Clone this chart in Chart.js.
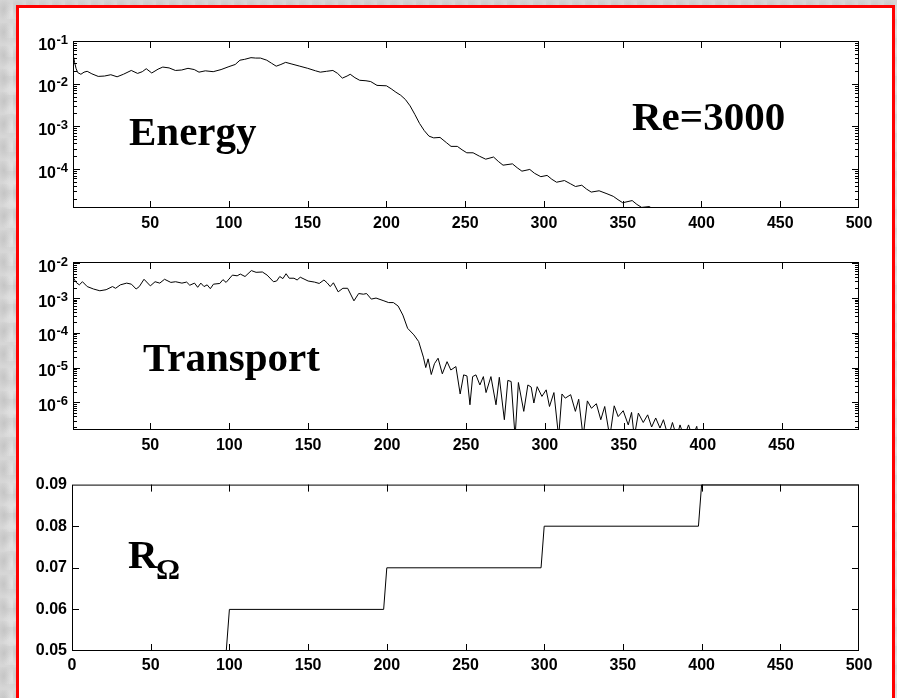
<!DOCTYPE html>
<html><head><meta charset="utf-8">
<script src="https://cdn.jsdelivr.net/npm/chart.js@4.4.0/dist/chart.umd.min.js"></script>
<style>
html,body{margin:0;padding:0;width:897px;height:698px;overflow:hidden;}
body{position:relative;background-color:#d6d6d6;
 background-image:radial-gradient(ellipse at 30% 40%, rgba(175,175,175,0.45) 0, transparent 60%),
 radial-gradient(ellipse at 70% 70%, rgba(235,235,235,0.6) 0, transparent 55%);
 background-size:13px 23px, 17px 19px;}
#frame{position:absolute;left:16px;top:5px;width:879px;height:720px;box-sizing:border-box;border:3px solid #ff0000;background:#ffffff;}
canvas{position:absolute;}
</style></head><body>
<div id="frame"></div>
<canvas id="c1" width="870" height="215" style="left:20px;top:25px"></canvas>
<canvas id="c2" width="870" height="215" style="left:20px;top:250px"></canvas>
<canvas id="c3" width="870" height="215" style="left:20px;top:470px"></canvas>
<script>
// ---------- data ----------
const energyX = [1,2,3,4,6,8,10,13,17,21,25,29,33,38,42,45,47.5,51,55,58,62,66,70,74,78,81,85,90,95,100,104,107,110,114,117,120,124,127,130,133,136,140,145,150,155,158,162,166,169,172,175,177,180,183,187,190,194,200,203,206,209,212,215,218,221,224,227,230,234,238,241,245,248,251,255,259,263,268,271,274,280,283,286,291,294,298,302,305,308,313,317,320,324,327,330,335,340,344,347,350,356,359,362,367,370,373];
const energyY = [0.0501,0.0316,0.0224,0.0182,0.0166,0.0186,0.0195,0.0170,0.0148,0.0151,0.0162,0.0145,0.0166,0.0204,0.0174,0.0191,0.0224,0.0178,0.0219,0.0245,0.0234,0.0204,0.0209,0.0229,0.0214,0.0186,0.0200,0.0191,0.0214,0.0251,0.0282,0.0355,0.0372,0.0407,0.0398,0.0398,0.0355,0.0302,0.0257,0.0282,0.0316,0.0288,0.0257,0.0229,0.0200,0.0186,0.0195,0.0204,0.0174,0.0135,0.0151,0.0166,0.0138,0.0120,0.0117,0.0112,0.00912,0.00891,0.00759,0.00631,0.00537,0.00427,0.00302,0.00191,0.00117,7.94e-4,5.89e-4,5.37e-4,5.50e-4,4.17e-4,3.39e-4,3.39e-4,2.82e-4,2.40e-4,2.40e-4,2.00e-4,1.70e-4,1.91e-4,1.51e-4,1.23e-4,1.32e-4,1.07e-4,8.91e-5,9.77e-5,7.94e-5,6.61e-5,7.08e-5,5.75e-5,4.90e-5,5.37e-5,4.47e-5,3.89e-5,4.17e-5,3.39e-5,2.88e-5,3.09e-5,2.63e-5,2.29e-5,1.91e-5,1.62e-5,1.82e-5,1.48e-5,1.26e-5,1.32e-5,1.07e-5,8.9e-6];

const transportX = [1,3,5,7,10,14,18,22,26,28,31,35,38,41,43,46,50,53,56,59,63,66,70,73,75,78,80,82,84,86,88,90,94,96,98,102,105,107,110,114,117,121,124,128,130,132,134,136,138,141,143,145,150,154,157,160,162,164,166,169,172,175,179,182,185,187,190,193,198,201,204,207,210,213,217,220,223,224.5,226,228,230,232.3,235,238,240.4,243.6,246.3,248.5,250.6,252.5,254.2,256.3,258.8,261,262.7,265.8,269,271.1,274.3,276.5,278.6,281.1,283.2,286.6,289.2,291.3,293,295.1,298.1,300.8,302.9,305.7,308.7,310.8,312.9,316.3,319.3,321.4,324.2,326.9,329.5,332.6,335.4,337.9,341.1,343.9,346.4,349.6,352.8,354.9,356.6,359.2,362.3,365.1,367.6,370.2,372.9,375.1,378.2,380.8,383.5,385.6,388.2,391,393.5,396.2,397.3];
const transportY = [3.98e-3,2.82e-3,2.40e-3,2.95e-3,2.14e-3,1.82e-3,1.62e-3,1.74e-3,2.14e-3,1.91e-3,2.40e-3,2.69e-3,2.51e-3,1.82e-3,2.14e-3,3.47e-3,2.24e-3,2.95e-3,2.69e-3,3.47e-3,2.82e-3,2.95e-3,2.69e-3,2.88e-3,2.34e-3,2.69e-3,2.04e-3,2.69e-3,2.14e-3,2.40e-3,1.86e-3,2.51e-3,2.63e-3,3.39e-3,2.82e-3,4.57e-3,4.37e-3,4.90e-3,4.17e-3,6.17e-3,5.50e-3,5.62e-3,4.57e-3,2.95e-3,3.09e-3,4.17e-3,3.63e-3,5.01e-3,3.72e-3,3.72e-3,3.31e-3,3.98e-3,3.09e-3,2.88e-3,2.63e-3,3.31e-3,2.75e-3,2.14e-3,2.75e-3,1.51e-3,1.91e-3,1.91e-3,8.32e-4,1.35e-3,1.29e-3,1.35e-3,9.33e-4,1.00e-3,8.32e-4,7.41e-4,7.41e-4,5.89e-4,3.24e-4,1.35e-4,8.71e-5,5.62e-5,2.00e-5,1.00e-5,1.78e-5,6.31e-6,1.29e-5,1.86e-5,6.61e-6,1.48e-5,8.51e-6,1.07e-5,1.74e-6,6.17e-6,5.75e-6,8.51e-7,5.50e-6,6.17e-6,3.16e-6,5.50e-6,1.91e-6,5.50e-6,8.51e-7,5.25e-6,3.16e-7,4.27e-6,3.98e-6,1e-7,3.72e-6,5.50e-7,3.16e-6,2.75e-6,9.55e-7,2.82e-6,1.48e-6,2.29e-6,7.59e-7,1.91e-6,1e-7,1.74e-6,1.32e-6,1.66e-6,5.50e-7,1.23e-6,1e-7,1.10e-6,6.76e-7,9.12e-7,3.16e-7,7.59e-7,1e-7,7.94e-7,3.89e-7,5.75e-7,2.24e-7,5.13e-7,1e-7,4.90e-7,2.63e-7,4.37e-7,1.95e-7,3.55e-7,1.82e-7,3.16e-7,1e-7,2.63e-7,1e-7,2.24e-7,1e-7,2.24e-7,1e-7,2.04e-7,1e-7];

const omegaX = [0,98,100,198,200,298,300,398,400,500];
const omegaY = [0.05,0.05,0.06,0.06,0.07,0.07,0.08,0.08,0.09,0.09];

const energyXTicks = [50,100,150,200,250,300,350,400,450,500];
const transportXTicks = [50,100,150,200,250,300,350,400,450];
const omegaXTicks = [0,50,100,150,200,250,300,350,400,450,500];
const energyYTicks = [1e-1,1e-2,1e-3,1e-4];
const energyYExp = ['-1','-2','-3','-4'];
const transportYTicks = [1e-2,1e-3,1e-4,1e-5,1e-6];
const transportYExp = ['-2','-3','-4','-5','-6'];
const omegaYTicks = [0.05,0.06,0.07,0.08,0.09];
const omegaYLabels = ['0.05','0.06','0.07','0.08','0.09'];

// ---------- drawing ----------
const SANS = "'Liberation Sans', Arial, Helvetica, sans-serif";
const SERIF = "'Liberation Serif', 'Times New Roman', serif";

const framePlugin = {
  id: 'frame',
  afterDatasetsDraw(chart, args, opts) {
    const {ctx, chartArea: a, scales} = chart;
    const xs = scales.x, ys = scales.y;
    ctx.save();
    ctx.strokeStyle = '#000';
    ctx.lineWidth = 1;
    ctx.beginPath();
    xs.ticks.forEach(t => {
      const px = Math.round(xs.getPixelForValue(t.value)) + 0.5;
      if (px <= a.left + 1 || px >= a.right - 1) return;
      ctx.moveTo(px, a.bottom); ctx.lineTo(px, a.bottom - 7);
      ctx.moveTo(px, a.top); ctx.lineTo(px, a.top + 7);
    });
    const yTick = (v, len) => {
      const py = Math.round(ys.getPixelForValue(v)) + 0.5;
      if (py <= a.top + 1 || py >= a.bottom - 1) return;
      ctx.moveTo(a.left, py); ctx.lineTo(a.left + len, py);
      ctx.moveTo(a.right, py); ctx.lineTo(a.right - len, py);
    };
    if (ys.type === 'logarithmic') {
      ys.ticks.forEach(t => {
        yTick(t.value, 7);
        for (let k = 2; k <= 9; k++) { yTick(t.value * k, 4); yTick(t.value * k / 10, 4); }
      });
    } else {
      ys.ticks.forEach(t => yTick(t.value, 7));
    }
    ctx.stroke();
    ctx.strokeRect(a.left + 0.5, a.top + 0.5, a.right - a.left - 1, a.bottom - a.top - 1);
    if (opts.exps) {
      ctx.fillStyle = '#000';
      ys.ticks.forEach((t, i) => {
        const py = ys.getPixelForValue(t.value);
        ctx.textBaseline = 'alphabetic';
        ctx.font = 'bold 16px ' + SANS;
        ctx.textAlign = 'right';
        ctx.fillText('10', a.left - 17, py + 8.5);
        ctx.font = 'bold 13px ' + SANS;
        ctx.textAlign = 'left';
        ctx.fillText(opts.exps[i], a.left - 16.5, py + 2.5);
      });
    }
    (opts.texts || []).forEach(tx => {
      ctx.fillStyle = '#000';
      ctx.font = tx.font;
      ctx.textAlign = 'left';
      ctx.textBaseline = 'alphabetic';
      ctx.fillText(tx.text, tx.x, tx.y);
    });
    ctx.restore();
  }
};

function makeChart(id, xs, ys, o) {
  const yScale = o.log ? {
    type: 'logarithmic', min: o.ymin, max: o.ymax,
    afterBuildTicks: s => { s.ticks = o.yTicks.map(v => ({value: v})); },
    ticks: {display: false},
    grid: {display: false}, border: {display: false},
    afterFit: s => { s.width = o.yw; }
  } : {
    type: 'linear', min: o.ymin, max: o.ymax,
    afterBuildTicks: s => { s.ticks = o.yTicks.map(v => ({value: v})); },
    ticks: {padding: 5, color: '#000', font: {family: SANS, size: 16, weight: 'bold'},
      callback: (v, i) => o.yLabels[i]},
    grid: {display: false, drawTicks: false}, border: {display: false},
    afterFit: s => { s.width = o.yw; }
  };
  return new Chart(document.getElementById(id), {
    type: 'line',
    data: { datasets: [{
      data: xs.map((x, i) => ({x: x, y: ys[i]})),
      borderColor: '#000', borderWidth: 1, pointRadius: 0, tension: 0, fill: false
    }]},
    options: {
      responsive: false, animation: false, devicePixelRatio: 1,
      layout: {padding: {left: 0, right: o.pr, top: o.pt, bottom: 0}},
      plugins: {legend: {display: false}, tooltip: {enabled: false},
        frame: {exps: o.exps || null, texts: o.texts}},
      scales: {
        x: {
          type: 'linear', min: o.xmin, max: o.xmax,
          afterBuildTicks: s => { s.ticks = o.xTicks.map(v => ({value: v})); },
          ticks: {padding: o.xpad, color: '#000', maxRotation: 0, autoSkip: false,
            font: {family: SANS, size: 16, weight: 'bold'}, callback: v => String(v)},
          grid: {display: false, drawTicks: false}, border: {display: false},
          afterFit: s => { s.height = o.xh; }
        },
        y: yScale
      }
    },
    plugins: [framePlugin]
  });
}

makeChart('c1', energyX, energyY, {
  log: true, ymin: 1.22e-5, ymax: 0.1, yTicks: energyYTicks, exps: energyYExp,
  xmin: 1, xmax: 500, xTicks: energyXTicks, xpad: 6,
  yw: 53, xh: 32, pr: 31, pt: 16,
  texts: [
    {text: 'Energy', x: 109, y: 120, font: 'bold 41px ' + SERIF},
    {text: 'Re=3000', x: 612, y: 105, font: 'bold 41px ' + SERIF}
  ]
});
makeChart('c2', transportX, transportY, {
  log: true, ymin: 1.6e-7, ymax: 1.09e-2, yTicks: transportYTicks, exps: transportYExp,
  xmin: 1, xmax: 499, xTicks: transportXTicks, xpad: 6,
  yw: 53, xh: 35, pr: 31, pt: 12,
  texts: [
    {text: 'Transport', x: 123, y: 121, font: 'bold 41px ' + SERIF}
  ]
});
makeChart('c3', omegaX, omegaY, {
  log: false, ymin: 0.05, ymax: 0.09, yTicks: omegaYTicks, yLabels: omegaYLabels,
  xmin: 0, xmax: 500, xTicks: omegaXTicks, xpad: 5,
  yw: 52, xh: 34, pr: 31, pt: 13,
  texts: [
    {text: 'R', x: 108, y: 98, font: 'bold 41px ' + SERIF},
    {text: 'Ω', x: 136, y: 109, font: 'bold 30px ' + SERIF}
  ]
});
</script>
</body></html>
